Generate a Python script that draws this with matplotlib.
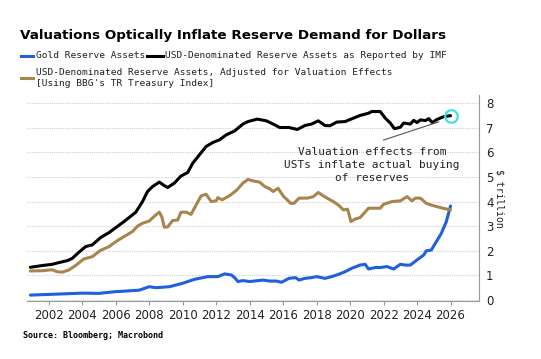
import matplotlib
matplotlib.use("Agg")
import matplotlib.pyplot as plt
from matplotlib.lines import Line2D

# values ($ trillion)
imf_years = [2000.9, 2001.6, 2002.2, 2002.6, 2003.1, 2003.4, 2003.8, 2004.2, 2004.6, 2005.1,
             2005.6, 2006.0, 2006.5, 2007.0, 2007.2, 2007.6, 2007.9, 2008.2, 2008.6, 2008.9,
             2009.1, 2009.5, 2009.9, 2010.3, 2010.6, 2011.0, 2011.4, 2011.8, 2012.2, 2012.6,
             2013.1, 2013.6, 2013.9, 2014.45, 2015.0, 2015.4, 2015.8, 2016.35, 2016.85, 2017.3,
             2017.7, 2018.1, 2018.5, 2018.8, 2019.2, 2019.7, 2020.2, 2020.6, 2021.1, 2021.3,
             2021.8, 2022.1, 2022.4, 2022.65, 2023.0, 2023.2, 2023.6, 2023.8, 2024.0, 2024.2,
             2024.5, 2024.7, 2024.9, 2025.2, 2025.6, 2026.0]
imf_usd = [1.33, 1.40, 1.45, 1.52, 1.60, 1.69, 1.94, 2.17, 2.24, 2.54,
           2.74, 2.94, 3.19, 3.46, 3.57, 4.00, 4.41, 4.61, 4.79, 4.65,
           4.57, 4.75, 5.04, 5.18, 5.56, 5.90, 6.24, 6.40, 6.51, 6.71,
           6.87, 7.15, 7.25, 7.35, 7.28, 7.15, 7.01, 7.01, 6.93, 7.09,
           7.15, 7.28, 7.09, 7.08, 7.23, 7.25, 7.39, 7.50, 7.59, 7.66,
           7.66, 7.39, 7.19, 6.96, 7.02, 7.19, 7.15, 7.30, 7.21, 7.32,
           7.29, 7.37, 7.21, 7.34, 7.45, 7.49]

adj_years = [2000.9, 2001.6, 2002.2, 2002.5, 2002.8, 2003.2, 2003.6, 2004.1, 2004.6, 2005.1,
             2005.6, 2006.0, 2006.5, 2007.0, 2007.3, 2007.6, 2008.0, 2008.4, 2008.6, 2008.75,
             2008.9, 2009.1, 2009.4, 2009.7, 2009.9, 2010.2, 2010.5, 2010.8, 2011.1, 2011.4,
             2011.7, 2012.0, 2012.1, 2012.35, 2012.8, 2013.2, 2013.6, 2013.9, 2014.2, 2014.6,
             2014.9, 2015.2, 2015.4, 2015.7, 2016.0, 2016.45, 2016.65, 2016.95, 2017.45, 2017.8,
             2018.1, 2018.4, 2018.7, 2019.0, 2019.3, 2019.6, 2019.85, 2020.05, 2020.3, 2020.6,
             2021.1, 2021.8, 2022.0, 2022.5, 2023.0, 2023.4, 2023.7, 2023.9, 2024.2, 2024.55,
             2024.85, 2025.15, 2025.55, 2026.0]
adj_usd = [1.18, 1.19, 1.23, 1.15, 1.13, 1.22, 1.40, 1.67, 1.76, 2.02,
           2.17, 2.37, 2.58, 2.78, 3.00, 3.12, 3.21, 3.46, 3.57, 3.39,
           2.96, 2.97, 3.23, 3.25, 3.57, 3.57, 3.48, 3.86, 4.23, 4.30,
           4.00, 4.03, 4.16, 4.07, 4.24, 4.45, 4.75, 4.90, 4.84, 4.79,
           4.61, 4.52, 4.41, 4.54, 4.23, 3.93, 3.93, 4.14, 4.14, 4.20,
           4.37, 4.23, 4.11, 4.00, 3.86, 3.66, 3.69, 3.19, 3.29, 3.35,
           3.73, 3.73, 3.89, 4.00, 4.03, 4.20, 4.03, 4.14, 4.14, 3.93,
           3.86, 3.80, 3.73, 3.66]

gold_years = [2000.9, 2002.5, 2004.0, 2005.0, 2006.0, 2006.5, 2007.4, 2008.0, 2008.4, 2009.2,
              2010.0, 2010.7, 2011.5, 2012.1, 2012.5, 2012.9, 2013.1, 2013.3, 2013.6, 2014.0,
              2014.8, 2015.2, 2015.6, 2015.9, 2016.35, 2016.75, 2016.95, 2017.3, 2017.7, 2018.0,
              2018.5, 2018.9, 2019.3, 2019.7, 2020.1, 2020.6, 2020.9, 2021.1, 2021.5, 2021.8,
              2022.2, 2022.6, 2023.0, 2023.3, 2023.6, 2024.0, 2024.4, 2024.55, 2024.85, 2025.15,
              2025.45, 2025.75, 2026.0]
gold = [0.20, 0.24, 0.28, 0.27, 0.34, 0.36, 0.40, 0.54, 0.50, 0.54,
        0.68, 0.84, 0.95, 0.95, 1.06, 1.02, 0.91, 0.75, 0.79, 0.75,
        0.81, 0.77, 0.77, 0.72, 0.88, 0.91, 0.81, 0.88, 0.91, 0.95,
        0.88, 0.95, 1.04, 1.15, 1.29, 1.42, 1.45, 1.26, 1.32, 1.32,
        1.36, 1.26, 1.45, 1.42, 1.42, 1.63, 1.83, 2.00, 2.03, 2.37,
        2.71, 3.19, 3.82]

xticks = list(range(2002, 2027, 2))
yticks = list(range(0, 9))

BLUE = "#1f5fe0"
BROWN = "#a8844f"
MONO = "DejaVu Sans Mono"

W, H = 541, 359
fig = plt.figure(figsize=(W / 100, H / 100), dpi=100)
ax = fig.add_axes([27 / W, 1 - 301 / H, (479 - 27) / W, (301 - 95) / H])

ax.plot(gold_years, gold, color=BLUE, lw=2.2, solid_capstyle="round")
ax.plot(adj_years, adj_usd, color=BROWN, lw=2.2, solid_capstyle="round")
ax.plot(imf_years, imf_usd, color="black", lw=2.2, solid_capstyle="round")

# highlight on latest IMF value
ax.plot(imf_years[-1], imf_usd[-1], marker="o", ms=9, mfc="none",
        mec="#3ee0e0", mew=1.6)

# annotation
ax.plot([2022.0, 2025.3], [6.5, 7.24], color="#555555", lw=0.8)
fig.text(372 / W, 1 - 165 / H, "Valuation effects from\nUSTs inflate actual buying\nof reserves",
         ha="center", va="center", family=MONO, fontsize=8, linespacing=1.4,
         color="#222222")

ax.set_xlim(2000.7, 2027.7)
ax.set_ylim(-0.04, 8.33)
ax.set_xticks(xticks)
ax.set_yticks(yticks)
ax.yaxis.tick_right()
ax.tick_params(axis="x", length=3, color="#999999", labelsize=8.5, labelcolor="#222222", pad=3)
ax.tick_params(axis="y", length=0, labelsize=8.5, labelcolor="#222222", pad=5)
ax.grid(axis="y", linestyle=(0, (1, 1)), color="#d0d0d0", lw=0.8)
ax.set_axisbelow(True)
for s in ["top", "left"]:
    ax.spines[s].set_visible(False)
for s in ["bottom", "right"]:
    ax.spines[s].set_color("#999999")
    ax.spines[s].set_linewidth(0.8)

ax.yaxis.set_label_position("right")
ax.set_ylabel("$ trillion", family=MONO, fontsize=7, rotation=-90, labelpad=8,
              color="#222222")

# title
fig.text(20 / W, 1 - 35 / H, "Valuations Optically Inflate Reserve Demand for Dollars",
         fontsize=9.7, fontweight="bold", va="center", ha="left")

# legend drawn by hand
def swatch(x0, x1, y, color):
    fig.add_artist(Line2D([x0 / W, x1 / W], [1 - y / H, 1 - y / H], color=color, lw=2.2))

swatch(21, 33, 55.5, BLUE)
fig.text(36 / W, 1 - 55.5 / H, "Gold Reserve Assets", family=MONO, fontsize=6.8,
         va="center", color="#222222")
swatch(147, 163, 55.5, "black")
fig.text(165 / W, 1 - 55.5 / H, "USD-Denominated Reserve Assets as Reported by IMF",
         family=MONO, fontsize=6.8, va="center", color="#222222")
swatch(21, 33, 78, BROWN)
fig.text(36 / W, 1 - 78 / H,
         "USD-Denominated Reserve Assets, Adjusted for Valuation Effects\n[Using BBG's TR Treasury Index]",
         family=MONO, fontsize=6.8, va="center", linespacing=1.15, color="#222222")

fig.text(23 / W, 1 - 335.5 / H, "Source: Bloomberg; Macrobond", family=MONO,
         fontsize=6, fontweight="bold", va="center")

fig.savefig("out.png", dpi=100)
